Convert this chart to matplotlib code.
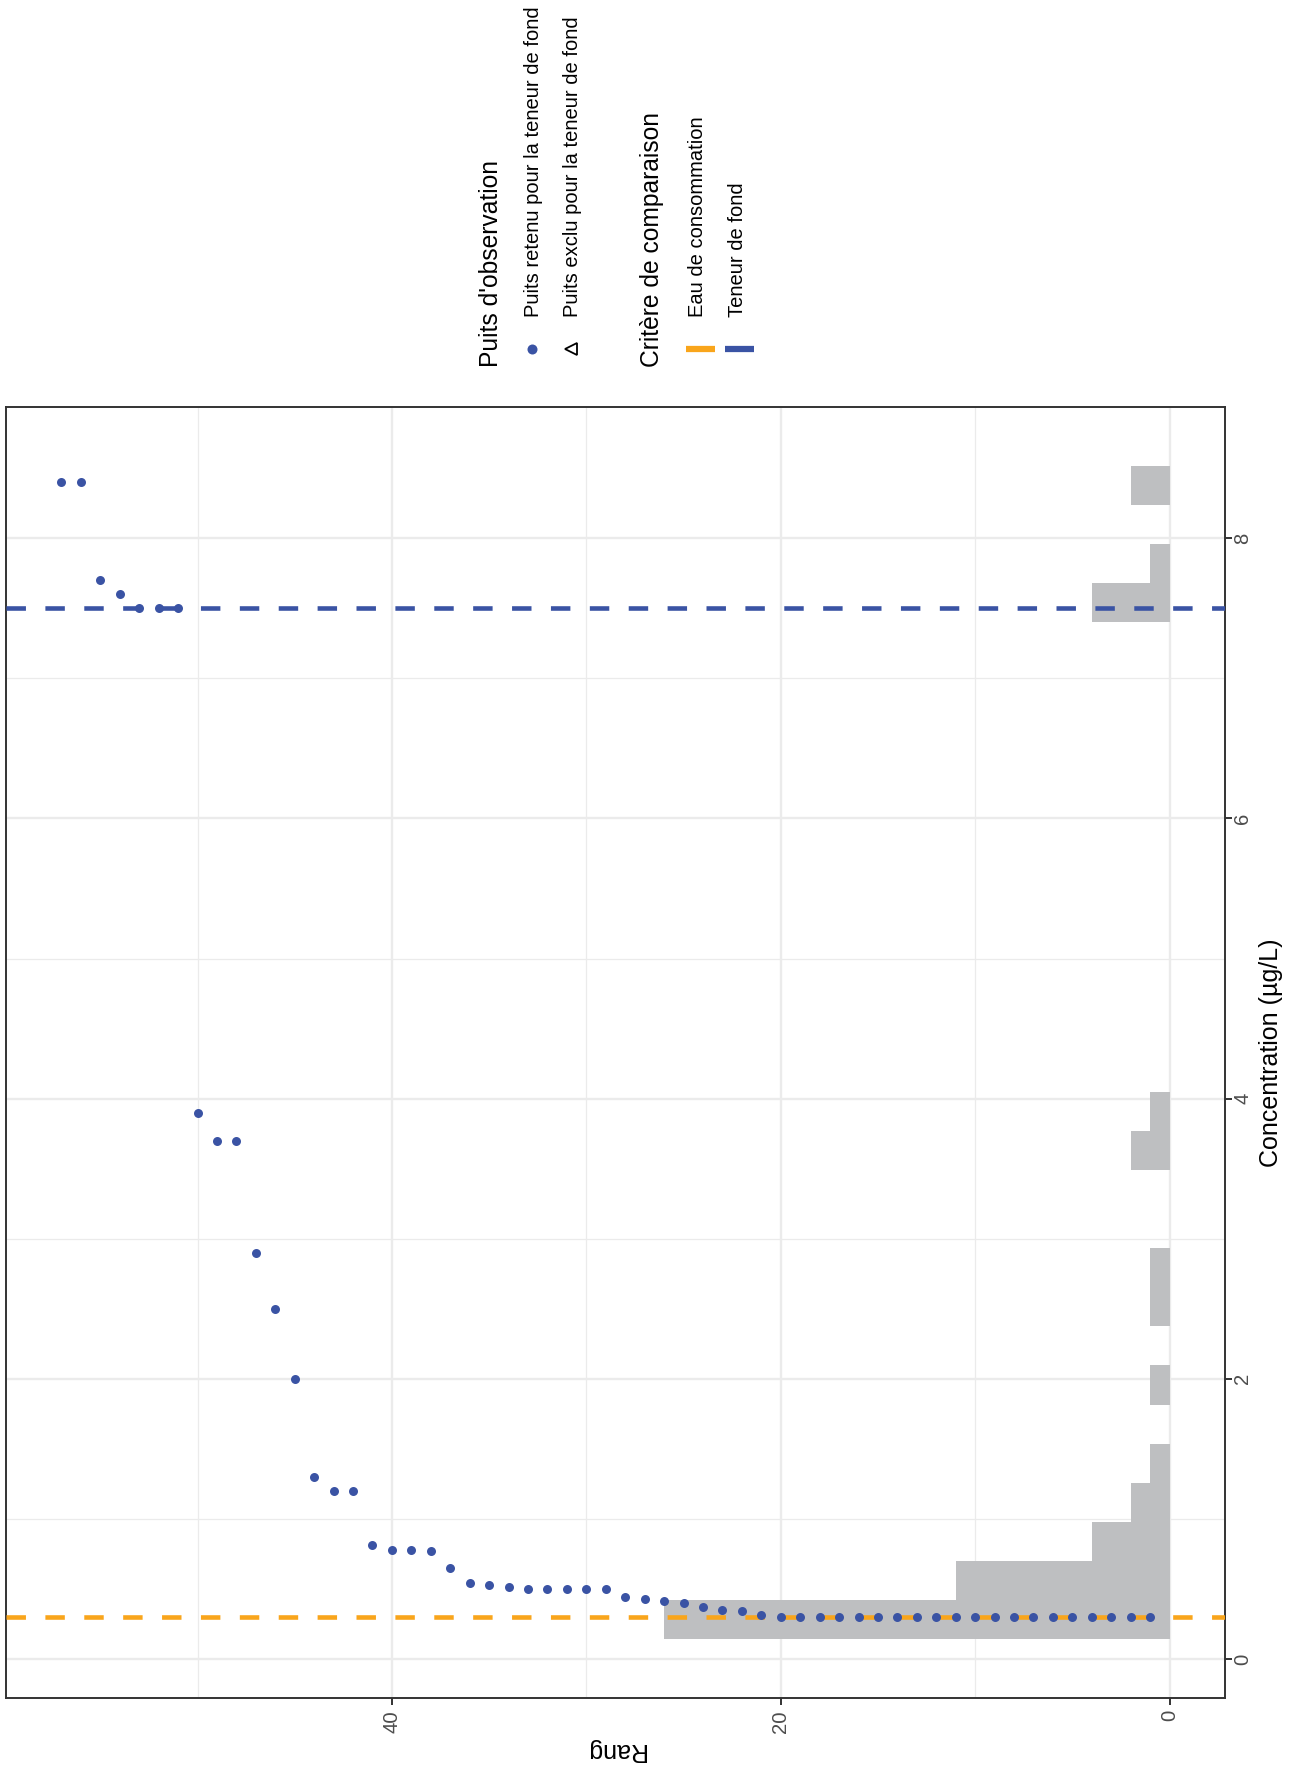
import numpy as np
import matplotlib
matplotlib.use("Agg")
import matplotlib.pyplot as plt

plt.rcParams['font.family'] = ['Liberation Sans', 'DejaVu Sans']
plt.rcParams['lines.scale_dashes'] = False

# concentrations (µg/L) des puits d'observation, triées par rang
conc = [0.30, 0.30, 0.30, 0.30, 0.30, 0.30, 0.30, 0.30, 0.30, 0.30,
        0.30, 0.30, 0.30, 0.30, 0.30, 0.30, 0.30, 0.30, 0.30, 0.30,
        0.31, 0.34, 0.35, 0.37, 0.40, 0.41, 0.43, 0.44, 0.50, 0.50,
        0.50, 0.50, 0.50, 0.51, 0.53, 0.54, 0.65, 0.77, 0.78, 0.78,
        0.81, 1.2, 1.2, 1.3, 2.0, 2.5, 2.9, 3.7, 3.7, 3.9,
        7.5, 7.5, 7.5, 7.6, 7.7, 8.4, 8.4]

critere_eau = 0.3    # eau de consommation
critere_fond = 7.5   # teneur de fond
n_bins = 30

x_ticks = [0, 20, 40]
x_minor = [10, 30, 50]
y_ticks = [0, 2, 4, 6, 8]
y_minor = [1, 3, 5, 7]

BLUE = '#3A53A4'
ORANGE = '#F9A51B'
GREY = '#BEBFC1'
GRID = '#EBEBEB'

c = np.asarray(conc)
rang = np.arange(1, len(c) + 1)

# classes comme geom_histogram(bins = 30)
w = (c.max() - c.min()) / (n_bins - 1)
origin = w / 2 + np.floor((c.min() - w / 2) / w) * w
edges = origin + w * np.arange(n_bins + 1)
counts, _ = np.histogram(c, bins=edges)

W, H = 1290, 1775
fig = plt.figure(figsize=(W / 100, H / 100), dpi=100)
L, R, T, B = 6, 1225, 407, 1698
ax = fig.add_axes([L / W, 1 - B / H, (R - L) / W, (B - T) / H])

# figure tournée de 90° : rang à l'horizontale (inversé), concentration à la verticale
ax.barh(edges[:-1], counts, height=w, align='edge', color=GREY, lw=0, zorder=2)
ax.axhline(critere_eau, color=ORANGE, lw=3.3, dashes=(14, 14), zorder=3)
ax.axhline(critere_fond, color=BLUE, lw=3.3, dashes=(14, 14), zorder=3)
ax.scatter(rang, c, s=42, color=BLUE, lw=0, zorder=4)

xmax = max(rang.max(), counts.max())
ax.set_xlim(xmax * 1.05, -xmax * 0.05)
pad = 0.05 * (edges[-1] - edges[0])
ax.set_ylim(edges[0] - pad, edges[-1] + pad)

ax.set_xticks(x_ticks)
ax.set_xticks(x_minor, minor=True)
ax.set_yticks(y_ticks)
ax.set_yticks(y_minor, minor=True)
ax.yaxis.tick_right()
ax.yaxis.set_label_position('right')
ax.set_axisbelow(True)
ax.grid(which='major', color=GRID, lw=1.7)
ax.grid(which='minor', color=GRID, lw=0.9)
ax.tick_params(which='minor', length=0)
ax.tick_params(which='major', length=4.8, width=1.4, color='#333333',
               labelcolor='#4D4D4D', labelsize=14.6)
ax.tick_params(axis='x', labelrotation=90, pad=4)
ax.tick_params(axis='y', labelrotation=90, pad=1)
for lbl in ax.get_yticklabels():
    lbl.set_va('center')
for sp in ax.spines.values():
    sp.set_color('#333333')
    sp.set_linewidth(1.4)

ax.set_xlabel('Rang', fontsize=18, rotation=180, labelpad=3.5)
ax.set_ylabel('Concentration (µg/L)', fontsize=18, labelpad=5)

# légende (tournée elle aussi)
lg = fig.add_axes([0, 0, 1, 1])
lg.set_xlim(0, W)
lg.set_ylim(H, 0)
lg.axis('off')
txt = dict(rotation=90, rotation_mode='anchor', ha='left', va='baseline')
lg.text(498, 367, "Puits d'observation", fontsize=17.7, **txt)
lg.plot([531.7], [349.3], 'o', ms=7.2, color=BLUE, mew=0)
lg.plot([570.5], [349.3], '<', ms=8.5, mfc='none', mec='black', mew=1.3)
lg.text(539.3, 316.7, 'Puits retenu pour la teneur de fond', fontsize=14.5, **txt)
lg.text(578.3, 316.7, 'Puits exclu pour la teneur de fond', fontsize=14.5, **txt)

lg.text(659, 367, 'Critère de comparaison', fontsize=17.7, **txt)
lg.plot([686, 715], [349.3, 349.3], color=ORANGE, lw=4.5, solid_capstyle='butt')
lg.plot([725, 754], [349.3, 349.3], color=BLUE, lw=4.5, solid_capstyle='butt')
lg.text(703.3, 316.7, 'Eau de consommation', fontsize=14.5, **txt)
lg.text(742.7, 316.7, 'Teneur de fond', fontsize=14.5, **txt)

fig.savefig('out.png', dpi=100)
